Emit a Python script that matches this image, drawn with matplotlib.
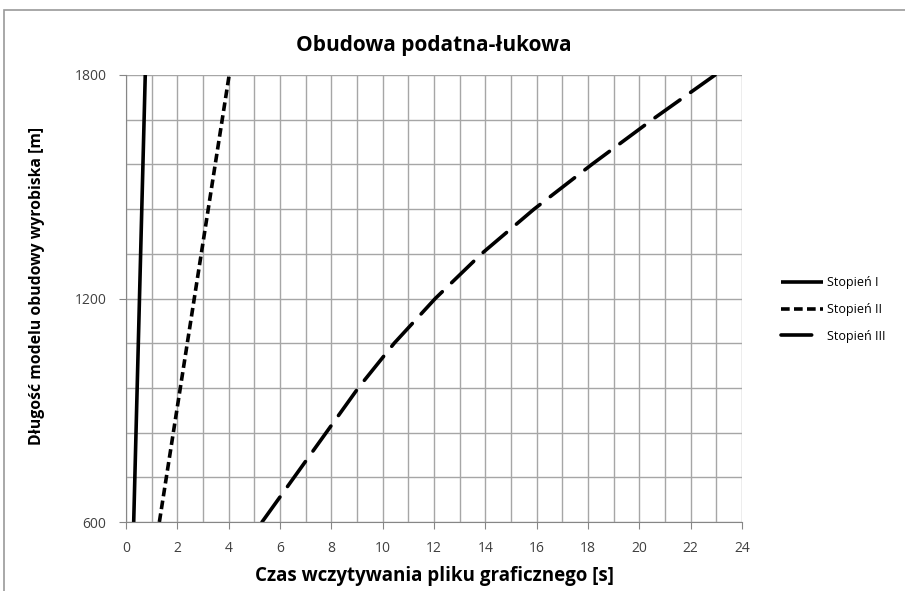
import matplotlib
matplotlib.use("Agg")
import matplotlib.pyplot as plt
from matplotlib.patches import Rectangle
import numpy as np

# Data
y_len = [600, 720, 840, 960, 1080, 1200, 1320, 1440, 1560, 1680, 1800]
stopien1_y = [600, 1800]
stopien1_x = [0.30, 0.75]
stopien2_y = [600, 1200, 1800]
stopien2_x = [1.30, 2.66, 4.02]
stopien3_x = [5.3, 6.55, 7.8, 9.05, 10.45, 12.05, 13.85, 15.9, 18.15, 20.5, 22.95]

title = "Obudowa podatna-łukowa"
xlabel = "Czas wczytywania pliku graficznego [s]"
ylabel = "Długość modelu obudowy wyrobiska [m]"
labels = ["Stopień I", "Stopień II", "Stopień III"]
xticks = list(range(0, 25, 2))
yticks = [600, 1200, 1800]

plt.rcParams['font.family'] = ['Open Sans', 'DejaVu Sans']

W, H = 905, 591
fig = plt.figure(figsize=(W / 100, H / 100), dpi=100)
ax = fig.add_axes([126 / W, 1 - 522 / H, (742 - 126) / W, (522 - 75) / H])

# outer chart frame
fig.patches.append(Rectangle((4 / W, -0.1), 1.2, 1 - 10 / H + 0.1, transform=fig.transFigure,
                             fill=False, edgecolor='#9a9a9a', linewidth=1.2))

lw = 2.6
ax.plot(stopien1_x, stopien1_y, color='black', lw=lw, solid_capstyle='butt', label=labels[0])
ax.plot(stopien2_x, stopien2_y, color='black', lw=lw, linestyle=(0, (2.4, 1.2)), label=labels[1])
ax.plot(stopien3_x, y_len, color='black', lw=lw, linestyle=(0, (8.5, 3.6)),
        dash_capstyle='round', solid_joinstyle='round', label=labels[2])

ax.set_xlim(0, 24)
ax.set_ylim(600, 1800)
ax.set_xticks(xticks)
ax.set_xticks(np.arange(0, 25, 1), minor=True)
ax.set_yticks(yticks)
ax.set_yticks(np.arange(600, 1801, 120), minor=True)
ax.grid(which='both', color='#a6a6a6', linewidth=1.0)
ax.set_axisbelow(True)
ax.tick_params(axis='both', which='major', direction='out', length=5, color='#868686',
               labelsize=10, labelcolor='#404040', pad=9)
ax.tick_params(axis='both', which='minor', length=0)
for s in ['top', 'right']:
    ax.spines[s].set_visible(False)
for s in ['left', 'bottom']:
    ax.spines[s].set_color('#868686')

ax.set_title(title, fontsize=15, fontweight='bold', pad=17)
ax.set_xlabel(xlabel, fontsize=13.5, fontweight='bold', labelpad=7)
ax.set_ylabel(ylabel, fontsize=11.3, fontweight='bold')
ax.yaxis.set_label_coords(-(126 - 45) / (742 - 126), 0.528)

leg = fig.legend(loc='upper left', bbox_to_anchor=(770 / W, 1 - 265 / H), frameon=False,
                 fontsize=9, handlelength=3.35, handletextpad=0.3, labelspacing=1.1)

fig.savefig("out.png", dpi=100, facecolor='white')
